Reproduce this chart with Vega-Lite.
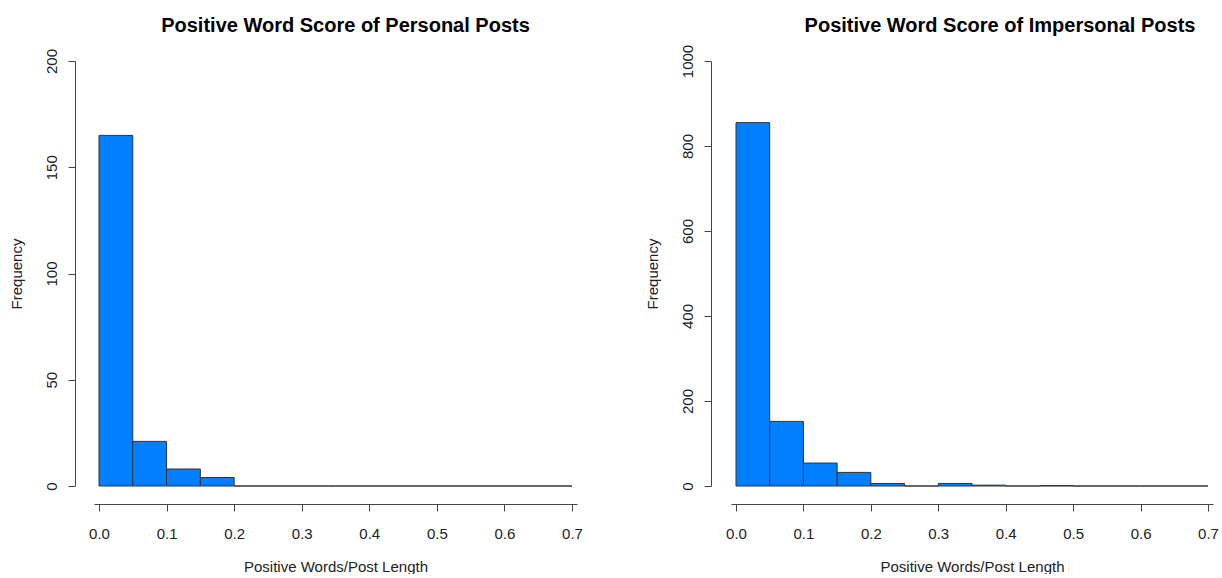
{
  "$schema": "https://vega.github.io/schema/vega-lite/v6.json",
  "background": "white",
  "padding": {"left": 9, "top": 16, "right": 0, "bottom": 0},
  "spacing": 62,
  "datasets": {
    "personal": [
      {"start": 0.00, "end": 0.05, "count": 165},
      {"start": 0.05, "end": 0.10, "count": 21},
      {"start": 0.10, "end": 0.15, "count": 8},
      {"start": 0.15, "end": 0.20, "count": 4},
      {"start": 0.20, "end": 0.25, "count": 0},
      {"start": 0.25, "end": 0.30, "count": 0},
      {"start": 0.30, "end": 0.35, "count": 0},
      {"start": 0.35, "end": 0.40, "count": 0},
      {"start": 0.40, "end": 0.45, "count": 0},
      {"start": 0.45, "end": 0.50, "count": 0},
      {"start": 0.50, "end": 0.55, "count": 0},
      {"start": 0.55, "end": 0.60, "count": 0},
      {"start": 0.60, "end": 0.65, "count": 0},
      {"start": 0.65, "end": 0.70, "count": 0}
    ],
    "impersonal": [
      {"start": 0.00, "end": 0.05, "count": 855},
      {"start": 0.05, "end": 0.10, "count": 152},
      {"start": 0.10, "end": 0.15, "count": 54},
      {"start": 0.15, "end": 0.20, "count": 32},
      {"start": 0.20, "end": 0.25, "count": 6},
      {"start": 0.25, "end": 0.30, "count": 0},
      {"start": 0.30, "end": 0.35, "count": 6},
      {"start": 0.35, "end": 0.40, "count": 2},
      {"start": 0.40, "end": 0.45, "count": 0},
      {"start": 0.45, "end": 0.50, "count": 1},
      {"start": 0.50, "end": 0.55, "count": 0},
      {"start": 0.55, "end": 0.60, "count": 0},
      {"start": 0.60, "end": 0.65, "count": 0},
      {"start": 0.65, "end": 0.70, "count": 0}
    ]
  },
  "config": {
    "font": "Liberation Sans",
    "view": {"stroke": null},
    "axis": {
      "grid": false,
      "domainColor": "#444",
      "tickColor": "#444",
      "tickSize": 7,
      "labelFont": "Liberation Sans",
      "labelFontSize": 15,
      "labelColor": "#222",
      "titleFont": "Liberation Sans",
      "titleFontSize": 15,
      "titleFontWeight": "normal",
      "titleColor": "#222"
    },
    "title": {"font": "Liberation Sans", "fontSize": 20, "fontWeight": "bold", "color": "#000", "anchor": "middle"}
  },
  "hconcat": [
    {
      "width": 483,
      "height": 425,
      "title": {"text": "Positive Word Score of Personal Posts", "dx": 10, "offset": 12},
      "data": {"name": "personal"},
      "mark": {"type": "bar", "orient": "vertical", "fill": "#0080FF", "stroke": "#333", "strokeWidth": 1},
      "encoding": {
        "x": {"field": "start", "type": "quantitative", "scale": {"domain": [0, 0.7], "nice": false, "zero": false},
              "axis": {"title": "Positive Words/Post Length", "values": [0, 0.1, 0.2, 0.3, 0.4, 0.5, 0.6, 0.7], "format": ".1f", "offset": 18, "labelPadding": 15, "titlePadding": 18, "labelFlush": false}},
        "x2": {"field": "end"},
        "y": {"field": "count", "type": "quantitative", "stack": null, "scale": {"domain": [0, 200], "nice": false},
              "axis": {"title": "Frequency", "values": [0, 50, 100, 150, 200], "format": "d", "offset": 19, "labelAngle": -90, "labelAlign": "center", "labelBaseline": "bottom", "labelPadding": 9, "titlePadding": 20, "labelFlush": false}},
        "y2": {"datum": 0}
      }
    },
    {
      "width": 482,
      "height": 425,
      "title": {"text": "Positive Word Score of Impersonal Posts", "dx": 28, "offset": 8},
      "data": {"name": "impersonal"},
      "mark": {"type": "bar", "orient": "vertical", "fill": "#0080FF", "stroke": "#333", "strokeWidth": 1},
      "encoding": {
        "x": {"field": "start", "type": "quantitative", "scale": {"domain": [0, 0.7], "nice": false, "zero": false},
              "axis": {"title": "Positive Words/Post Length", "values": [0, 0.1, 0.2, 0.3, 0.4, 0.5, 0.6, 0.7], "format": ".1f", "offset": 18, "labelPadding": 15, "titlePadding": 18, "labelFlush": false}},
        "x2": {"field": "end"},
        "y": {"field": "count", "type": "quantitative", "stack": null, "scale": {"domain": [0, 1000], "nice": false},
              "axis": {"title": "Frequency", "values": [0, 200, 400, 600, 800, 1000], "format": "d", "offset": 20, "labelAngle": -90, "labelAlign": "center", "labelBaseline": "bottom", "labelPadding": 9, "titlePadding": 20, "labelFlush": false}},
        "y2": {"datum": 0}
      }
    }
  ]
}
